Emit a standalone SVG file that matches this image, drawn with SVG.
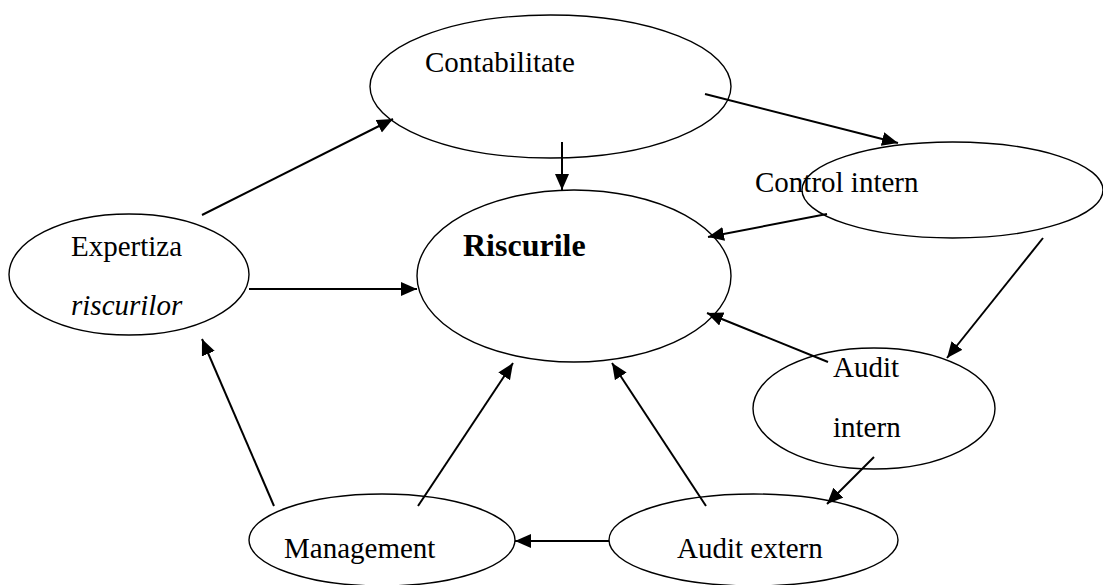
<svg xmlns="http://www.w3.org/2000/svg" width="1103" height="585" viewBox="0 0 1103 585">
<style>
.node ellipse{fill:none;stroke:#000;stroke-width:1.4}
.t{font-family:"Liberation Serif","Times New Roman",serif;font-size:29px;fill:#000}
.b{font-weight:bold;font-size:32px}
.i{font-style:italic}
#connectors line{stroke:#000;stroke-width:2;marker-end:url(#ah)}
</style>
<defs>
<marker id="ah" markerUnits="userSpaceOnUse" markerWidth="17" markerHeight="15" refX="16" refY="7" orient="auto">
<path d="M0,0 L16,7 L0,14 z" fill="#000"/>
</marker>
</defs>
<rect width="1103" height="585" fill="#fff"/>
<g id="contabilitate" class="node"><ellipse cx="550.5" cy="86.5" rx="180.5" ry="71.5"/><text class="t" x="425" y="72">Contabilitate</text></g>
<g id="riscurile" class="node"><ellipse cx="574" cy="276" rx="157" ry="86"/><text class="t b" x="463" y="256">Riscurile</text></g>
<g id="control-intern" class="node"><ellipse cx="952.5" cy="190" rx="150.5" ry="48"/><text class="t" x="755" y="192">Control intern</text></g>
<g id="expertiza" class="node"><ellipse cx="129" cy="274.5" rx="120" ry="60.5"/><text class="t" x="71" y="256">Expertiza</text><text class="t i" x="71" y="315">riscurilor</text></g>
<g id="audit-intern" class="node"><ellipse cx="874" cy="408.5" rx="121" ry="60.5"/><text class="t" x="833" y="377">Audit</text><text class="t" x="833" y="437">intern</text></g>
<g id="management" class="node"><ellipse cx="382" cy="540" rx="133" ry="46"/><text class="t" x="284" y="558">Management</text></g>
<g id="audit-extern" class="node"><ellipse cx="753.5" cy="540" rx="144.5" ry="46"/><text class="t" x="677" y="558">Audit extern</text></g>
<g id="connectors">
<line x1="202" y1="215" x2="393" y2="119"/>
<line x1="562" y1="142" x2="562" y2="190"/>
<line x1="705" y1="94" x2="898" y2="143"/>
<line x1="827" y1="214" x2="708" y2="237"/>
<line x1="1043" y1="238" x2="947" y2="358"/>
<line x1="828" y1="362" x2="707" y2="313"/>
<line x1="874" y1="457" x2="827" y2="504"/>
<line x1="609" y1="541" x2="515" y2="541"/>
<line x1="706" y1="506" x2="612" y2="363"/>
<line x1="418" y1="506" x2="513" y2="363"/>
<line x1="274" y1="506" x2="202" y2="339"/>
<line x1="249" y1="289" x2="417" y2="289"/>
</g>
</svg>
